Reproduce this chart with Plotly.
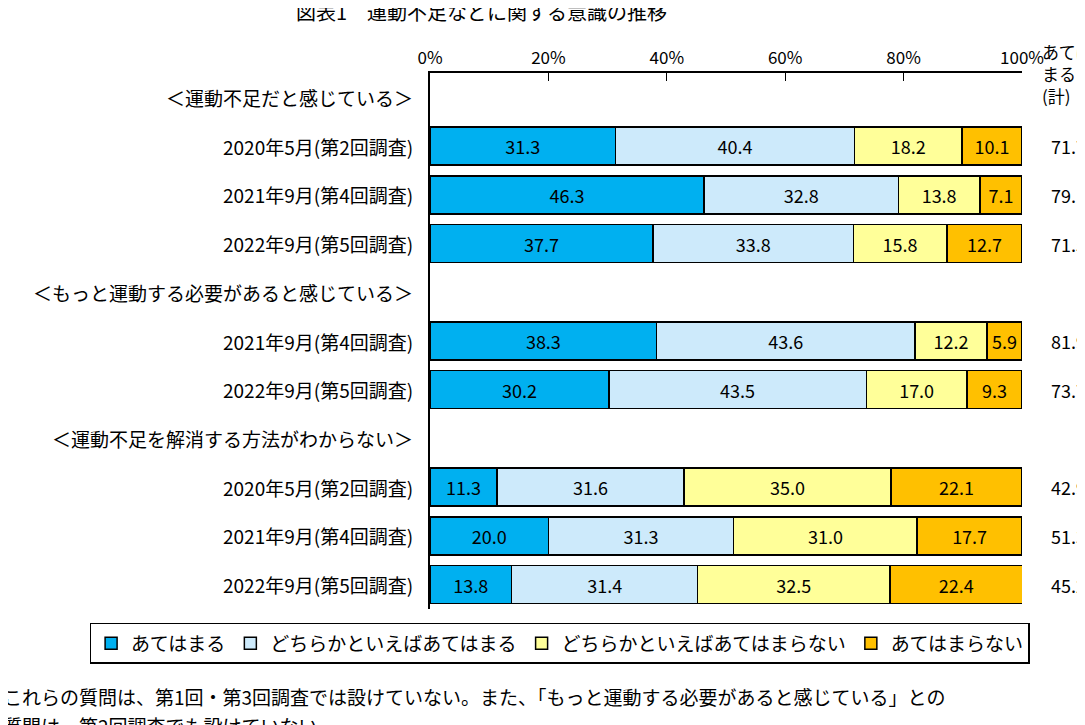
import plotly.graph_objects as go

rows = ["＜運動不足だと感じている＞", "2020年5月(第2回調査)", "2021年9月(第4回調査)", "2022年9月(第5回調査)",
        "＜もっと運動する必要があると感じている＞", "2021年9月(第4回調査)", "2022年9月(第5回調査)",
        "＜運動不足を解消する方法がわからない＞", "2020年5月(第2回調査)", "2021年9月(第4回調査)", "2022年9月(第5回調査)"]
data_rows = [1, 2, 3, 5, 6, 8, 9, 10]
s1 = [31.3, 46.3, 37.7, 38.3, 30.2, 11.3, 20.0, 13.8]
s2 = [40.4, 32.8, 33.8, 43.6, 43.5, 31.6, 31.3, 31.4]
s3 = [18.2, 13.8, 15.8, 12.2, 17.0, 35.0, 31.0, 32.5]
s4 = [10.1, 7.1, 12.7, 5.9, 9.3, 22.1, 17.7, 22.4]
total = [71.7, 79.1, 71.5, 81.9, 73.7, 42.9, 51.3, 45.2]
names = ["あてはまる", "どちらかといえばあてはまる", "どちらかといえばあてはまらない", "あてはまらない"]
colors = ["#00b0f0", "#cdeafb", "#ffff99", "#ffc000"]
F = "Noto Sans CJK JP"

fig = go.Figure()
for n, v, c in zip(names, [s1, s2, s3, s4], colors):
    fig.add_bar(y=data_rows, x=v, name=n, orientation="h", marker=dict(color=c, line=dict(color="black", width=1.5)),
                text=[f"{x:.1f}" for x in v], textposition="inside", insidetextanchor="middle",
                textfont=dict(size=18, color="black", family=F), width=0.78, textangle=0)

ann = []
for i, r in enumerate(rows):
    ann.append(dict(x=-0.025, xref="paper", y=i, yref="y", text=r, showarrow=False, xanchor="right",
                    font=dict(size=19, family=F, color="black")))
for r, t in zip(data_rows, total):
    ann.append(dict(x=1.045, xref="paper", y=r, yref="y", text=f"{t:.1f}", showarrow=False, xanchor="left",
                    font=dict(size=18, family=F, color="black")))
ann.append(dict(x=1.03, xref="paper", y=-0.5, yref="y", text="あては<br>まる<br>(計)", showarrow=False,
                xanchor="left", align="left", yanchor="middle", font=dict(size=17, family=F, color="black")))
ann.append(dict(x=-0.23, xref="paper", y=1.115, yref="paper", text="図表1　運動不足などに関する意識の推移", showarrow=False,
                xanchor="left", yanchor="middle", font=dict(size=20, family=F, color="black")))
ann.append(dict(x=-0.725, xref="paper", y=-0.163, yref="paper", text="これらの質問は、第1回・第3回調査では設けていない。また、「もっと運動する必要があると感じている」との",
                showarrow=False, xanchor="left", yanchor="middle", font=dict(size=19, family=F, color="black")))
ann.append(dict(x=-0.725, xref="paper", y=-0.218, yref="paper", text="質問は、第2回調査でも設けていない。",
                showarrow=False, xanchor="left", yanchor="middle", font=dict(size=19, family=F, color="black")))

fig.update_layout(
    width=1085, height=725, barmode="stack", plot_bgcolor="white", paper_bgcolor="white",
    margin=dict(l=422, r=71, t=65, b=124, autoexpand=False), annotations=ann,
    font=dict(family=F, color="black"),
    xaxis=dict(range=[0, 100], side="top", tickvals=[0, 20, 40, 60, 80, 100], ticktext=["0%", "20%", "40%", "60%", "80%", "100%"],
               ticks="inside", ticklen=8, tickcolor="black", showline=True, linecolor="black", linewidth=1.5,
               showgrid=False, zeroline=False, tickfont=dict(size=17, family=F)),
    yaxis=dict(range=[10.5, -0.5], showticklabels=False, showgrid=False, zeroline=False,
               showline=True, linecolor="black", linewidth=1.5),
    legend=dict(orientation="h", x=-0.575, xanchor="left", y=-0.026, yanchor="top", bordercolor="black", borderwidth=1.5,
                font=dict(size=19, family=F), itemwidth=30, traceorder="normal", tracegroupgap=0),
    showlegend=True,
)
fig.write_html("out.html")
